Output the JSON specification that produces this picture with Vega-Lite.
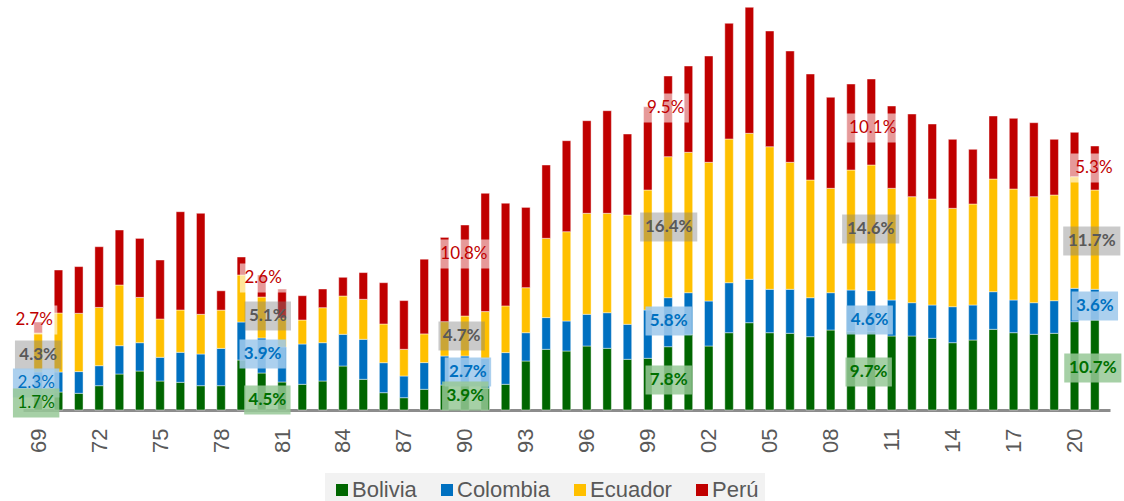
{
  "$schema": "https://vega.github.io/schema/vega-lite/v6.json",
  "width": 1087,
  "height": 410,
  "autosize": "none",
  "padding": {"left": 23, "top": 0, "right": 14, "bottom": 91},
  "background": "white",
  "config": {"view": {"stroke": null}},
  "datasets": {
    "bars": [
      {"year": 1969, "Bolivia": 13, "Colombia": 25, "Ecuador": 39, "Perú": 11},
      {"year": 1970, "Bolivia": 18, "Colombia": 20, "Ecuador": 59, "Perú": 43},
      {"year": 1971, "Bolivia": 16.7, "Colombia": 21.7, "Ecuador": 58.3, "Perú": 46.7},
      {"year": 1972, "Bolivia": 24.3, "Colombia": 20, "Ecuador": 58.3, "Perú": 60.7},
      {"year": 1973, "Bolivia": 36, "Colombia": 28.3, "Ecuador": 60.7, "Perú": 55},
      {"year": 1974, "Bolivia": 39, "Colombia": 28.3, "Ecuador": 45.3, "Perú": 59},
      {"year": 1975, "Bolivia": 29, "Colombia": 23.7, "Ecuador": 38.3, "Perú": 59},
      {"year": 1976, "Bolivia": 27.7, "Colombia": 30, "Ecuador": 42.3, "Perú": 98.3},
      {"year": 1977, "Bolivia": 24.3, "Colombia": 31.7, "Ecuador": 39.7, "Perú": 101},
      {"year": 1978, "Bolivia": 24.3, "Colombia": 37.3, "Ecuador": 38.3, "Perú": 19.3},
      {"year": 1979, "Bolivia": 50, "Colombia": 38, "Ecuador": 47, "Perú": 18},
      {"year": 1980, "Bolivia": 37, "Colombia": 35, "Ecuador": 41, "Perú": 22},
      {"year": 1981, "Bolivia": 28, "Colombia": 35, "Ecuador": 29, "Perú": 29},
      {"year": 1982, "Bolivia": 25.7, "Colombia": 40.3, "Ecuador": 24, "Perú": 24.3},
      {"year": 1983, "Bolivia": 29, "Colombia": 38.3, "Ecuador": 35, "Perú": 18.7},
      {"year": 1984, "Bolivia": 44, "Colombia": 31.7, "Ecuador": 38.3, "Perú": 18.7},
      {"year": 1985, "Bolivia": 30.7, "Colombia": 40, "Ecuador": 40, "Perú": 26.7},
      {"year": 1986, "Bolivia": 17.3, "Colombia": 30, "Ecuador": 38.7, "Perú": 41.3},
      {"year": 1987, "Bolivia": 12.3, "Colombia": 21.7, "Ecuador": 26.7, "Perú": 48.7},
      {"year": 1988, "Bolivia": 20.7, "Colombia": 26.7, "Ecuador": 28.7, "Perú": 74.7},
      {"year": 1989, "Bolivia": 25, "Colombia": 29, "Ecuador": 34.3, "Perú": 84.3},
      {"year": 1990, "Bolivia": 26.7, "Colombia": 27.3, "Ecuador": 40, "Perú": 91},
      {"year": 1991, "Bolivia": 21.7, "Colombia": 30, "Ecuador": 46.7, "Perú": 118.3},
      {"year": 1992, "Bolivia": 25.7, "Colombia": 31.7, "Ecuador": 46.7, "Perú": 102.7},
      {"year": 1993, "Bolivia": 49, "Colombia": 28.3, "Ecuador": 45, "Perú": 80.3},
      {"year": 1994, "Bolivia": 60.7, "Colombia": 31.7, "Ecuador": 79.3, "Perú": 73.3},
      {"year": 1995, "Bolivia": 59, "Colombia": 30, "Ecuador": 89.3, "Perú": 91},
      {"year": 1996, "Bolivia": 64, "Colombia": 31.7, "Ecuador": 101, "Perú": 92.6},
      {"year": 1997, "Bolivia": 61.7, "Colombia": 35.6, "Ecuador": 99.4, "Perú": 102.6},
      {"year": 1998, "Bolivia": 50.7, "Colombia": 35, "Ecuador": 109.3, "Perú": 81},
      {"year": 1999, "Bolivia": 51.7, "Colombia": 48.3, "Ecuador": 120, "Perú": 83.3},
      {"year": 2000, "Bolivia": 63.3, "Colombia": 49, "Ecuador": 141, "Perú": 80.7},
      {"year": 2001, "Bolivia": 75.7, "Colombia": 41.6, "Ecuador": 140.4, "Perú": 86.3},
      {"year": 2002, "Bolivia": 64, "Colombia": 45, "Ecuador": 138.7, "Perú": 106.3},
      {"year": 2003, "Bolivia": 77.3, "Colombia": 50, "Ecuador": 143.7, "Perú": 115.7},
      {"year": 2004, "Bolivia": 87.3, "Colombia": 43.4, "Ecuador": 146, "Perú": 126},
      {"year": 2005, "Bolivia": 77.3, "Colombia": 43.4, "Ecuador": 142.6, "Perú": 115.7},
      {"year": 2006, "Bolivia": 76.7, "Colombia": 44, "Ecuador": 127, "Perú": 111.3},
      {"year": 2007, "Bolivia": 73.3, "Colombia": 39, "Ecuador": 117.7, "Perú": 106},
      {"year": 2008, "Bolivia": 80, "Colombia": 37.3, "Ecuador": 104.4, "Perú": 91},
      {"year": 2009, "Bolivia": 78.3, "Colombia": 41.7, "Ecuador": 120, "Perú": 86},
      {"year": 2010, "Bolivia": 78.3, "Colombia": 41, "Ecuador": 125.7, "Perú": 86},
      {"year": 2011, "Bolivia": 74, "Colombia": 36, "Ecuador": 111.7, "Perú": 82.3},
      {"year": 2012, "Bolivia": 74, "Colombia": 33.3, "Ecuador": 106, "Perú": 82.7},
      {"year": 2013, "Bolivia": 71.7, "Colombia": 33.3, "Ecuador": 106, "Perú": 75},
      {"year": 2014, "Bolivia": 67.3, "Colombia": 36, "Ecuador": 98.4, "Perú": 69},
      {"year": 2015, "Bolivia": 70, "Colombia": 35, "Ecuador": 101, "Perú": 54.7},
      {"year": 2016, "Bolivia": 80.7, "Colombia": 37.6, "Ecuador": 112.7, "Perú": 63},
      {"year": 2017, "Bolivia": 77.3, "Colombia": 32.7, "Ecuador": 111, "Perú": 70.7},
      {"year": 2018, "Bolivia": 75.7, "Colombia": 31.6, "Ecuador": 106, "Perú": 74},
      {"year": 2019, "Bolivia": 76.7, "Colombia": 32.6, "Ecuador": 105.7, "Perú": 55.7},
      {"year": 2020, "Bolivia": 88.3, "Colombia": 33.4, "Ecuador": 111.6, "Perú": 44.4},
      {"year": 2021, "Bolivia": 90, "Colombia": 30.7, "Ecuador": 99.3, "Perú": 44}
    ],
    "labels": [
      {"year": 1968.8, "value": 90, "t": "2.7%", "country": "Perú"},
      {"year": 1969.0, "value": 55, "t": "4.3%", "country": "Ecuador"},
      {"year": 1968.9, "value": 27, "t": "2.3%", "country": "Colombia"},
      {"year": 1968.9, "value": 7, "t": "1.7%", "country": "Bolivia"},
      {"year": 1980.07, "value": 132, "t": "2.6%", "country": "Perú"},
      {"year": 1980.3, "value": 94, "t": "5.1%", "country": "Ecuador"},
      {"year": 1980.05, "value": 56, "t": "3.9%", "country": "Colombia"},
      {"year": 1980.28, "value": 10, "t": "4.5%", "country": "Bolivia"},
      {"year": 1989.95, "value": 156, "t": "10.8%", "country": "Perú"},
      {"year": 1989.84, "value": 74, "t": "4.7%", "country": "Ecuador"},
      {"year": 1990.15, "value": 38, "t": "2.7%", "country": "Colombia"},
      {"year": 1990.02, "value": 14, "t": "3.9%", "country": "Bolivia"},
      {"year": 1999.88, "value": 302, "t": "9.5%", "country": "Perú"},
      {"year": 2000.03, "value": 183, "t": "16.4%", "country": "Ecuador"},
      {"year": 2000.03, "value": 89, "t": "5.8%", "country": "Colombia"},
      {"year": 2000.03, "value": 30, "t": "7.8%", "country": "Bolivia"},
      {"year": 2010.07, "value": 282, "t": "10.1%", "country": "Perú"},
      {"year": 2009.97, "value": 181, "t": "14.6%", "country": "Ecuador"},
      {"year": 2009.92, "value": 90, "t": "4.6%", "country": "Colombia"},
      {"year": 2009.87, "value": 38, "t": "9.7%", "country": "Bolivia"},
      {"year": 2020.95, "value": 242, "t": "5.3%", "country": "Perú"},
      {"year": 2020.85, "value": 169, "t": "11.7%", "country": "Ecuador"},
      {"year": 2021.0, "value": 104, "t": "3.6%", "country": "Colombia"},
      {"year": 2020.9, "value": 42, "t": "10.7%", "country": "Bolivia"}
    ]
  },
  "layer": [
    {
      "data": {"name": "bars"},
      "transform": [{"fold": ["Bolivia", "Colombia", "Ecuador", "Perú"], "as": ["country", "value"]}],
      "mark": {"type": "bar", "width": 8.5, "stroke": "white", "strokeWidth": 0.8, "strokeOpacity": 0.55},
      "encoding": {
        "x": {
          "field": "year", "type": "quantitative",
          "scale": {"domain": [1968.5, 2021.5], "nice": false, "zero": false},
          "axis": {
            "values": [1969, 1972, 1975, 1978, 1981, 1984, 1987, 1990, 1993, 1996, 1999, 2002, 2005, 2008, 2011, 2014, 2017, 2020],
            "labelExpr": "substring(toString(datum.value), 2)",
            "labelAngle": -90, "labelFont": "Liberation Sans", "labelFontSize": 22, "labelColor": "#595959",
            "ticks": false, "tickSize": 0, "labelPadding": 18,
            "domainColor": "#8c8c8c", "domainWidth": 3, "grid": false, "title": null,
            "labelFlush": false, "labelOverlap": false
          }
        },
        "y": {"field": "value", "type": "quantitative", "stack": "zero", "scale": {"domain": [0, 410], "nice": false}, "axis": null},
        "order": {"field": "country", "type": "nominal", "sort": "ascending"},
        "color": {
          "field": "country", "type": "nominal",
          "scale": {"domain": ["Bolivia", "Colombia", "Ecuador", "Perú"], "range": ["#006600", "#0070C0", "#FFC000", "#C00000"]},
          "legend": {
            "orient": "none", "legendX": 302, "legendY": 473, "direction": "horizontal", "title": null,
            "symbolType": "square", "symbolSize": 144, "symbolStrokeWidth": 0,
            "labelFont": "Liberation Sans", "labelFontSize": 22, "labelColor": "#595959",
            "fillColor": "#f2f2f2", "padding": 6, "columnPadding": 19, "labelOffset": -1
          }
        }
      }
    },
    {
      "data": {"name": "labels"},
      "transform": [{"filter": "length(datum.t) <= 4"}],
      "mark": {"type": "point", "shape": "M-1.6,-1H1.6V1H-1.6Z", "size": 841, "filled": true, "strokeWidth": 0, "stroke": "transparent", "opacity": 1},
      "encoding": {
        "x": {"field": "year", "type": "quantitative"},
        "y": {"field": "value", "type": "quantitative", "stack": null},
        "fill": {"field": "country", "type": "nominal", "legend": null,
          "scale": {"domain": ["Bolivia", "Colombia", "Ecuador", "Perú"], "range": ["rgba(150,200,150,0.85)", "rgba(160,202,236,0.88)", "rgba(128,128,128,0.42)", "rgba(255,255,255,0.6)"]}}
      }
    },
    {
      "data": {"name": "labels"},
      "transform": [{"filter": "length(datum.t) > 4"}],
      "mark": {"type": "point", "shape": "M-1.97,-1H1.97V1H-1.97Z", "size": 841, "filled": true, "strokeWidth": 0, "stroke": "transparent", "opacity": 1},
      "encoding": {
        "x": {"field": "year", "type": "quantitative"},
        "y": {"field": "value", "type": "quantitative", "stack": null},
        "fill": {"field": "country", "type": "nominal", "legend": null,
          "scale": {"domain": ["Bolivia", "Colombia", "Ecuador", "Perú"], "range": ["rgba(150,200,150,0.85)", "rgba(160,202,236,0.88)", "rgba(128,128,128,0.42)", "rgba(255,255,255,0.6)"]}}
      }
    },
    {
      "data": {"name": "labels"},
      "transform": [{"filter": "datum.country == 'Perú' || (datum.year < 1969.5 && datum.country != 'Ecuador')"}],
      "mark": {"type": "text", "font": "Lato", "fontSize": 17, "fontWeight": "normal", "align": "center", "baseline": "middle"},
      "encoding": {
        "x": {"field": "year", "type": "quantitative"},
        "y": {"field": "value", "type": "quantitative", "stack": null},
        "text": {"field": "t", "type": "nominal"},
        "color": {"field": "country", "type": "nominal", "legend": null,
          "scale": {"domain": ["Bolivia", "Colombia", "Ecuador", "Perú"], "range": ["#007000", "#0070C0", "#595959", "#C00000"]}}
      }
    },
    {
      "data": {"name": "labels"},
      "transform": [{"filter": "!(datum.country == 'Perú' || (datum.year < 1969.5 && datum.country != 'Ecuador'))"}],
      "mark": {"type": "text", "font": "Lato", "fontSize": 17, "fontWeight": "bold", "align": "center", "baseline": "middle"},
      "encoding": {
        "x": {"field": "year", "type": "quantitative"},
        "y": {"field": "value", "type": "quantitative", "stack": null},
        "text": {"field": "t", "type": "nominal"},
        "color": {"field": "country", "type": "nominal", "legend": null,
          "scale": {"domain": ["Bolivia", "Colombia", "Ecuador", "Perú"], "range": ["#007000", "#0070C0", "#595959", "#C00000"]}}
      }
    }
  ],
  "resolve": {"scale": {"color": "independent", "fill": "independent"}}
}
